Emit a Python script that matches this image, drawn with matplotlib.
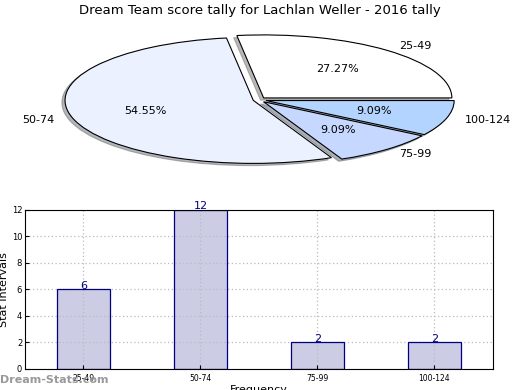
import matplotlib
matplotlib.use("Agg")
import matplotlib.pyplot as plt

# score intervals and how many games fell in each
intervals = ['25-49', '50-74', '75-99', '100-124']
counts = [6, 12, 2, 2]
pie_colors = ['#FFFFFF', '#EBF1FF', '#C6D8FF', '#B3D4FF']
explode = [0.04, 0.03, 0.04, 0.04]

fig = plt.figure(figsize=(5.2, 3.9), dpi=100)

# pie on top, not equal aspect so it comes out as an ellipse
ax1 = fig.add_axes([0.045, 0.542, 0.905, 0.404])
wedges, texts, autotexts = ax1.pie(counts, labels=intervals, colors=pie_colors,
                                   explode=explode, autopct='%1.2f%%',
                                   shadow={'ox': -0.012, 'oy': -0.025, 'shade': 0.55},
                                   startangle=0, labeldistance=1.1, pctdistance=0.6,
                                   wedgeprops={'edgecolor': 'black', 'linewidth': 0.8},
                                   textprops={'fontsize': 8})
ax1.set_aspect('auto')
ax1.set_xlim(-1.25, 1.25)
ax1.set_ylim(-1.25, 1.25)
fig.text(0.5, 0.972, 'Dream Team score tally for Lachlan Weller - 2016 tally',
         ha='center', va='center', fontsize=9.5)

# bar chart below
ax2 = fig.add_axes([0.048, 0.054, 0.9, 0.408])
x = range(len(intervals))
ax2.bar(x, counts, width=0.45, color='#CCCCE5', linewidth=0, zorder=2)
# outlines on top of the grid
ax2.bar(x, counts, width=0.45, facecolor='none', edgecolor='navy', linewidth=0.9,
        zorder=4)
for xi, c in zip(x, counts):
    ax2.text(xi, c - 0.1, str(c), ha='center', va='bottom', color='navy', fontsize=8,
             zorder=4)
ax2.set_xlim(-0.5, 3.5)
ax2.set_ylim(0, 12)
ax2.set_xticks(list(x))
ax2.set_xticklabels(intervals, fontsize=5.5)
ax2.set_yticks(range(0, 13, 2))
ax2.tick_params(axis='y', labelsize=6, direction='in', pad=2, length=3)
ax2.tick_params(axis='x', direction='in', pad=4, length=3)
ax2.grid(True, linestyle=(0, (1, 2)), color='#BBBBBB', linewidth=0.9, zorder=3)
ax2.set_axisbelow(False)
for sp in ax2.spines.values():
    sp.set_zorder(5)
ax2.set_ylabel('Stat Intervals', fontsize=8, labelpad=2)
ax2.set_xlabel('Frequency', fontsize=8, labelpad=1)

fig.text(0.0, 0.025, 'Dream-Stats.com', ha='left', va='center', fontsize=8,
         color='#999999', fontweight='bold')

fig.savefig('out.png', dpi=100)
